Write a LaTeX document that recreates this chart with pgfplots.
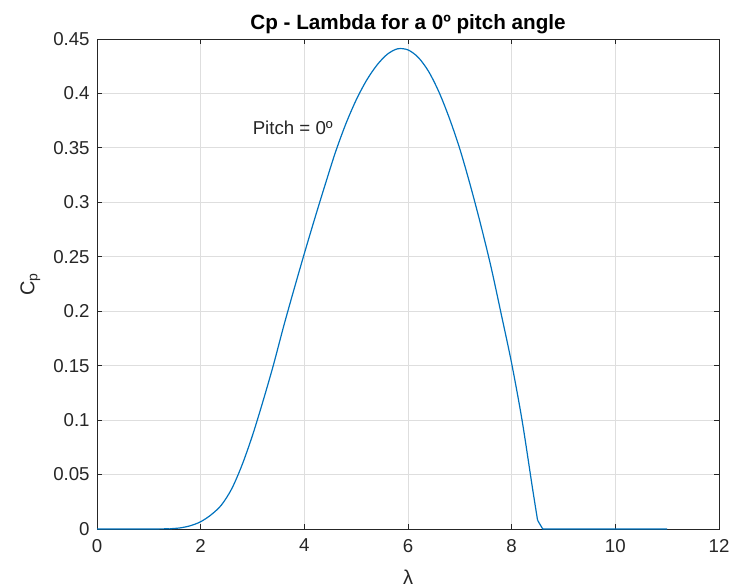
\documentclass[border=0pt]{standalone}
\usepackage{pgfplots}
\pgfplotsset{compat=1.18}
\usepackage{fontspec}
\setmainfont{Liberation Sans}
\definecolor{mblue}{rgb}{0,0.447,0.741}
\definecolor{axgray}{rgb}{0.15,0.15,0.15}
\definecolor{gridgray}{rgb}{0.87,0.87,0.87}

\begin{document}
\begin{tikzpicture}
\begin{axis}[
    name=ax, at={(0,0)}, anchor=south west,
    scale only axis, width=466.5pt, height=367.5pt,
    xmin=0, xmax=12, ymin=0, ymax=0.45,
    xtick={0,2,4,6,8,10,12},
    ytick={0,0.05,0.1,0.15,0.2,0.25,0.3,0.35,0.4,0.45},
    yticklabels={0,0.05,0.1,0.15,0.2,0.25,0.3,0.35,0.4,0.45},
    scaled y ticks=false,
    /pgf/number format/assume math mode=true,
    grid=major,
    major grid style={gridgray, line width=0.6pt},
    axis line style={axgray, line width=0.75pt},
    tick style={axgray, line width=0.75pt},
    major tick length=4pt,
    tick align=inside,
    ticklabel style={font=\fontsize{14}{16}\selectfont, text=axgray},
    xticklabel style={yshift=-4pt},
    yticklabel style={xshift=-2pt},
    title={Cp - Lambda for a 0º pitch angle},
    title style={font=\fontsize{15.5}{17}\selectfont\bfseries, at={(0.5,1)}, anchor=base, yshift=1.5pt},
    xlabel={λ},
    xlabel style={font=\fontsize{15}{17}\selectfont, text=axgray, at={(0.5,0)}, anchor=north, yshift=-27pt},
    ylabel={C\textsubscript{p}},
    ylabel style={font=\fontsize{15}{17}\selectfont, text=axgray, at={(0,0.5)}, anchor=center, yshift=50pt},
]
% flat start
\addplot[mblue, line width=0.9pt] coordinates {(0,0) (0.5,0) (1.0,0) (1.4,0.0002)};
% main curve
\addplot[mblue, line width=0.9pt, smooth, tension=0.5] coordinates {
    (1.4,0.0002) (1.6,0.001) (1.8,0.003)
    (2.0,0.0067) (2.2,0.013) (2.4,0.022) (2.6,0.037) (2.8,0.059)
    (3.0,0.086) (3.2,0.117) (3.4,0.150) (3.6,0.186) (3.8,0.220)
    (4.0,0.253) (4.2,0.285) (4.4,0.316) (4.6,0.346) (4.8,0.372)
    (5.0,0.394) (5.2,0.412) (5.4,0.426) (5.6,0.436) (5.8,0.441)
    (6.0,0.440) (6.2,0.433) (6.4,0.420) (6.6,0.401) (6.8,0.377)
    (7.0,0.349) (7.2,0.316) (7.4,0.280) (7.6,0.241) (7.8,0.197)
    (8.0,0.152) (8.2,0.100) (8.4,0.038) (8.5,0.008)
};
% cut-off tail
\addplot[mblue, line width=0.9pt] coordinates {(8.5,0.008) (8.6,0) (9,0) (10,0) (11,0)};
\node[anchor=west, inner sep=0pt, font=\fontsize{14}{16}\selectfont, text=axgray]
    at (axis cs:3,0.368) {Pitch = 0º};
\end{axis}
\pgfresetboundingbox
\path (-72.75pt,-43.5pt) rectangle (475.5pt,396.75pt);
\end{tikzpicture}
\end{document}
